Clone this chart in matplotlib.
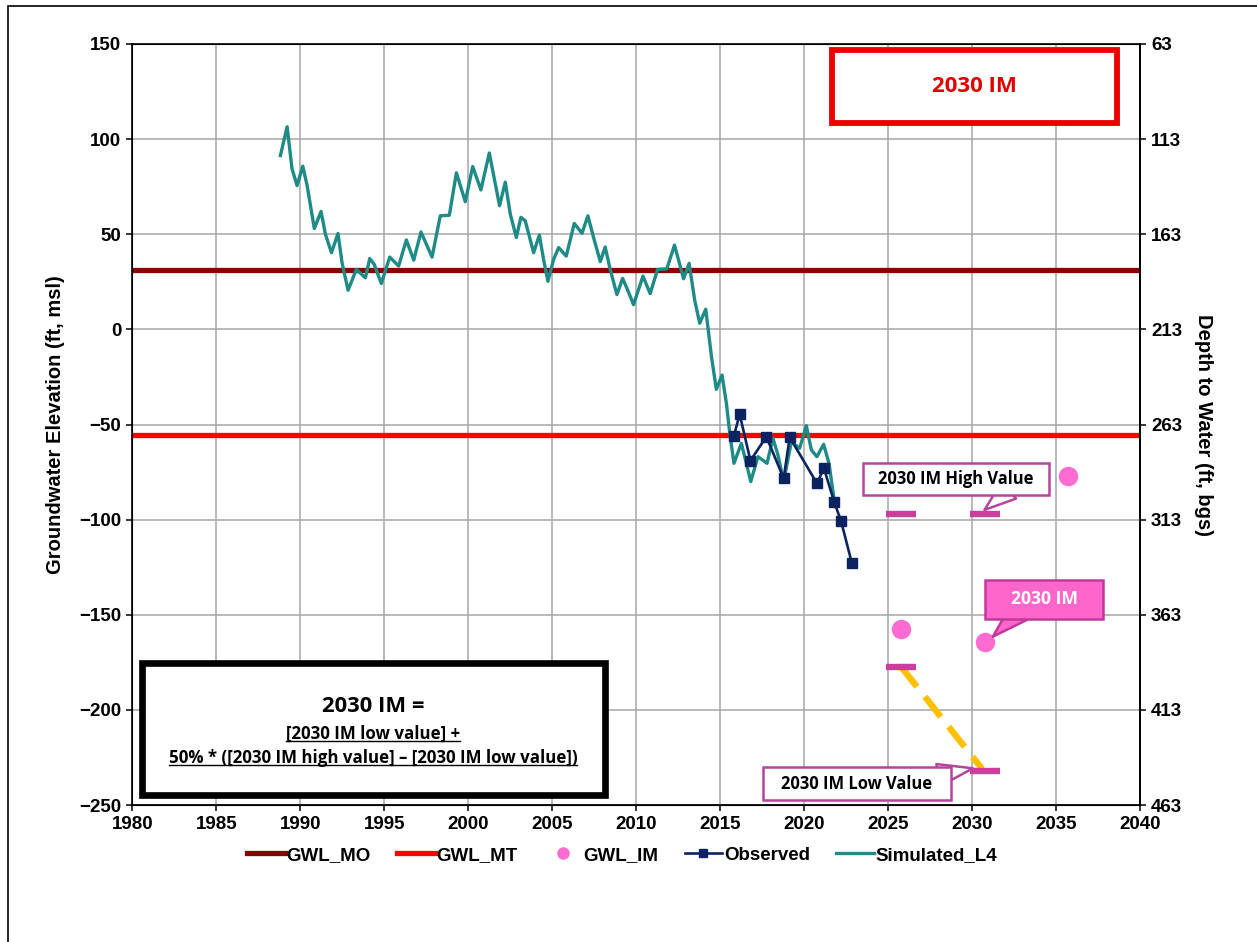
import matplotlib
matplotlib.use('Agg')
import matplotlib.pyplot as plt
import matplotlib.patches as patches
from matplotlib.lines import Line2D
import numpy as np

# ---- data ----
sim_year = [1988.81, 1989.21, 1989.5, 1989.8, 1990.14, 1990.4, 1990.83, 1991.23, 1991.49, 1991.85,
            1992.24, 1992.48, 1992.84, 1993.33, 1993.87, 1994.13, 1994.4, 1994.82, 1995.32, 1995.85,
            1996.31, 1996.75, 1997.18, 1997.84, 1998.33, 1998.87, 1999.29, 1999.82, 2000.26, 2000.75,
            2001.25, 2001.86, 2002.2, 2002.5, 2002.86, 2003.13, 2003.39, 2003.89, 2004.23, 2004.48,
            2004.74, 2005.08, 2005.38, 2005.83, 2006.31, 2006.77, 2007.12, 2007.46, 2007.86, 2008.15,
            2008.45, 2008.85, 2009.19, 2009.48, 2009.84, 2010.4, 2010.83, 2011.27, 2011.82, 2012.28,
            2012.82, 2013.15, 2013.48, 2013.78, 2014.14, 2014.48, 2014.77, 2015.11, 2015.37, 2015.57,
            2015.82, 2016.26, 2016.56, 2016.82, 2017.25, 2017.79, 2018.14, 2018.44, 2018.78, 2019.24,
            2019.73, 2020.13, 2020.43, 2020.76, 2021.16, 2021.48, 2021.76, 2021.9]
sim_elev = [91.4, 106.5, 84.4, 75.6, 85.8, 75.6, 53.0, 62.0, 50.0, 40.3,
            50.4, 35.0, 20.6, 31.5, 27.1, 37.3, 34.1, 24.1, 38.0, 33.3,
            47.0, 36.4, 51.2, 38.0, 59.7, 60.0, 82.3, 67.1, 85.6, 73.3,
            92.7, 65.0, 77.4, 60.6, 48.3, 58.9, 57.1, 40.3, 49.6, 36.8,
            25.3, 36.8, 43.0, 38.5, 55.7, 50.5, 59.7, 48.3, 35.6, 43.3,
            31.5, 18.3, 26.8, 20.9, 13.0, 28.0, 18.8, 31.5, 31.8, 44.3,
            26.6, 34.7, 15.4, 3.2, 10.6, -14.3, -31.5, -24.0, -38.9, -54.6,
            -70.4, -59.9, -70.4, -80.0, -66.9, -70.4, -57.2, -66.0, -80.0, -59.0,
            -62.5, -50.6, -63.4, -66.9, -60.4, -70.4, -87.9, -93.0]

obs_year = [2015.82, 2016.16, 2016.8, 2017.75, 2018.78, 2019.14, 2020.76, 2021.18, 2021.79, 2022.2, 2022.84]
obs_elev = [-55.9, -44.6, -69.0, -56.4, -78.3, -56.7, -80.9, -73.0, -90.7, -100.8, -122.8]

gwl_mo = 31.2
gwl_mt = -55.5

im_year = [2025.77, 2030.77, 2035.73]
im_elev = [-157.5, -164.2, -77.1]

bar_year = [2025.77, 2030.77, 2025.77, 2030.77]
bar_elev = [-97.0, -97.0, -177.3, -232.0]

trend_year = [2025.77, 2030.6]
trend_elev = [-177.3, -231.0]

surface = 213  # depth = surface - elevation
x_ticks = list(range(1980, 2041, 5))
y_ticks = list(range(-250, 151, 50))
depth_ticks = [surface - v for v in y_ticks]

# ---- figure ----
plt.rcParams['font.family'] = ['Liberation Sans', 'DejaVu Sans']
plt.rcParams['font.weight'] = 'bold'
BOX_FONT = ['Open Sans', 'DejaVu Sans']

fig = plt.figure(figsize=(12.57, 9.42), dpi=100)
ax = fig.add_axes([0.1054, 0.1454, 0.8015, 0.8079])

ax.grid(True, color='#A6A6A6', lw=1.1, zorder=0)
ax.axhline(gwl_mo, color='#8B0000', lw=3.8, zorder=2)
ax.axhline(gwl_mt, color='#FF0000', lw=3.8, zorder=2)
ax.plot(sim_year, sim_elev, color='#1E8B86', lw=2.4, zorder=3)
ax.plot(obs_year, obs_elev, color='#0B2461', lw=1.9, marker='s', ms=7.5, zorder=4)
ax.plot(trend_year, trend_elev, color='#FFC000', lw=4.6, dashes=(4, 2), zorder=4)
ax.plot(bar_year, bar_elev, ls='none', marker='_', ms=21, mew=4.6, color='#C8409C', zorder=5)
ax.plot(im_year, im_elev, ls='none', marker='o', ms=13, color='#FF6BD0', mec='#FF6BD0', zorder=5)

ax.set_xlim(1980, 2040)
ax.set_ylim(-250, 150)
ax.set_xticks(x_ticks)
ax.set_yticks(y_ticks)
for s in ax.spines.values():
    s.set_linewidth(1.2)
ax.tick_params(direction='out', length=4, width=1.1, labelsize=13.5, pad=4)
ax.set_ylabel('Groundwater Elevation (ft, msl)', fontsize=14.5, fontweight='bold', labelpad=10)

ax2 = ax.twinx()
ax2.set_ylim(surface - (-250), surface - 150)
ax2.set_yticks(depth_ticks)
ax2.tick_params(direction='out', length=4, width=1.1, labelsize=13.5, pad=4)
ax2.spines['right'].set_linewidth(1.2)
ax2.set_ylabel('Depth to Water (ft, bgs)', fontsize=14.5, fontweight='bold', rotation=-90, labelpad=22)

# red title box
ax.add_patch(patches.Rectangle((0.694, 0.896), 0.283, 0.096, transform=ax.transAxes,
                               fill=True, fc='white', ec='#EE0000', lw=4.2, zorder=6))
ax.text(0.836, 0.944, '2030 IM', transform=ax.transAxes, ha='center', va='center',
        color='#E00000', fontsize=16, fontweight='bold', family=BOX_FONT, zorder=7)

# formula box
ax.add_patch(patches.Rectangle((0.0094, 0.013), 0.4596, 0.174, transform=ax.transAxes,
                               fc='white', ec='black', lw=4.8, zorder=6))
ax.text(0.2387, 0.129, '2030 IM =', transform=ax.transAxes, ha='center', va='center',
        fontsize=15.8, fontweight='bold', family=BOX_FONT, zorder=7)
t2 = ax.text(0.2387, 0.094, '[2030 IM low value] +', transform=ax.transAxes, ha='center',
             va='center', fontsize=12.2, fontweight='bold', family=BOX_FONT, zorder=7)
t3 = ax.text(0.2387, 0.0614, '50% * ([2030 IM high value] \u2013 [2030 IM low value])',
             transform=ax.transAxes, ha='center', va='center', fontsize=12.2,
             fontweight='bold', family=BOX_FONT, zorder=7)


# callouts: box (x0, y0, x1, y1 in data units), wedge base, wedge tip
def callout(label, box, base, tip, fc, ec, tc, size):
    x0, y0, x1, y1 = box
    ax.add_patch(patches.Rectangle((x0, y0), x1 - x0, y1 - y0, fc=fc, ec=ec, lw=1.8, zorder=8))
    ax.annotate('', xy=tip, xytext=base,
                arrowprops=dict(arrowstyle='wedge,tail_width=0.8,shrink_factor=0.5',
                                mutation_scale=20, fc=fc, ec=ec, lw=1.8,
                                shrinkA=0, shrinkB=0), zorder=7)
    ax.text((x0 + x1) / 2, (y0 + y1) / 2, label, ha='center', va='center', color=tc,
            fontsize=size, fontweight='bold', family=BOX_FONT, zorder=9)


edge = '#B5449B'
callout('2030 IM High Value', (2023.48, -87.0, 2034.61, -70.2), (2032.2, -84.4), (2030.74, -94.9),
        'white', edge, 'black', 11.9)
callout('2030 IM', (2030.80, -152.2, 2037.77, -131.7), (2032.8, -148.5), (2031.24, -161.5),
        '#FF66CC', '#C0399A', 'white', 12.6)
callout('2030 IM Low Value', (2017.52, -247.4, 2028.77, -230.0), (2028.0, -234.2), (2030.05, -230.7),
        'white', edge, 'black', 11.9)

# legend
handles = [Line2D([], [], color='#8B0000', lw=3.8),
           Line2D([], [], color='#FF0000', lw=3.8),
           Line2D([], [], ls='none', marker='o', ms=8, color='#FF6BD0'),
           Line2D([], [], color='#0B2461', lw=1.9, marker='s', ms=6),
           Line2D([], [], color='#1E8B86', lw=2.4)]
labels = ['GWL_MO', 'GWL_MT', 'GWL_IM', 'Observed', 'Simulated_L4']
fig.legend(handles, labels, loc='center', bbox_to_anchor=(0.495, 0.092), ncol=5,
           frameon=False, fontsize=13.5, handlelength=2.0, handletextpad=0.1,
           columnspacing=1.4)

# outer frame
fig.patches.append(patches.Rectangle((8 / 1257, -0.1), 1.2, 1.1 - 6 / 942, transform=fig.transFigure,
                                     fill=False, ec='black', lw=1.2))

# underline formula lines
fig.canvas.draw()
r = fig.canvas.get_renderer()
inv = fig.transFigure.inverted()
for t in (t2, t3):
    bb = t.get_window_extent(renderer=r)
    (x0, y0), (x1, y1) = inv.transform([(bb.x0, bb.y0), (bb.x1, bb.y1)])
    fig.add_artist(Line2D([x0, x1], [y0 + 0.002, y0 + 0.002], color='black', lw=1.0,
                          transform=fig.transFigure, zorder=10))

fig.savefig('out.png', dpi=100)
